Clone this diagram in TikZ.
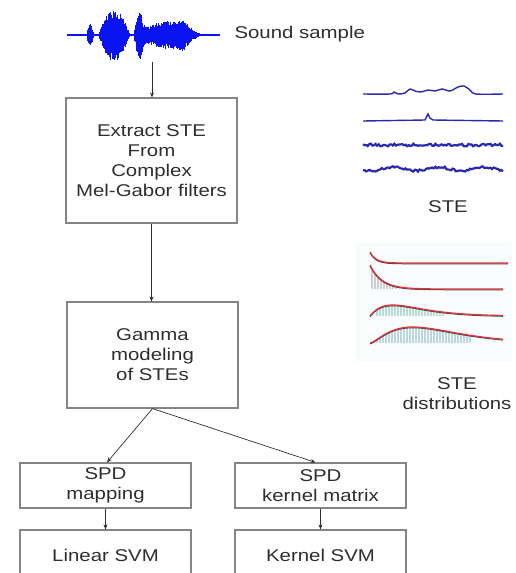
\documentclass[tikz,border=0pt]{standalone}
\usepackage{fontspec}
\setmainfont{Liberation Sans}[FakeStretch=1.2]
\usetikzlibrary{arrows.meta,calc}
\definecolor{txt}{HTML}{2E2E2E}
\definecolor{boxc}{HTML}{858585}
\definecolor{wavec}{HTML}{0A14F0}
\definecolor{stec}{HTML}{2A2AB0}
\definecolor{histg}{HTML}{CFCFCF}
\definecolor{histt}{HTML}{B4DCD0}
\definecolor{histb}{HTML}{BCD8DE}
\definecolor{fitred}{HTML}{E0303A}
\definecolor{panelbg}{HTML}{F8FCFC}
\begin{document}
\begin{tikzpicture}[x=1pt,y=-1pt,
  every node/.style={text=txt,font=\fontsize{17}{20}\selectfont},
  stagebox/.style={draw=boxc,line width=1.2pt,minimum width=171pt,align=center,inner sep=0pt},
  conn/.style={draw=txt,line width=0.7pt,-{Stealth[length=5pt,width=4pt]}},
  wavebar/.style={draw=wavec,line width=1pt},
  steline/.style={draw=stec,line width=1.4pt},
  fitdark/.style={draw=black!70,line width=1pt},
  fitcurve/.style={draw=fitred,line width=1.2pt}]
\useasboundingbox (0,0) rectangle (516,573);
\clip (0,0) rectangle (516,573);

% ---- sound waveform ----
\pgfmathsetseed{7}
\draw[wavec,line width=1.6pt] (67,35) -- (220,35);
\foreach \x in {86,86.5,...,94}{
  \pgfmathsetmacro\amp{15*(1-abs(\x-90)/4)}
  \pgfmathsetmacro\au{\amp*(0.6+0.4*rnd)}
  \pgfmathsetmacro\ad{\amp*(0.6+0.4*rnd)}
  \draw[wavebar] ({\x},{35-\au}) -- ({\x},{35+\ad});
}
\foreach \x in {98,98.5,...,130}{
  \pgfmathsetmacro\amp{27*sin(180*(\x-98)/32)}
  \pgfmathsetmacro\au{\amp*(0.6+0.4*rnd)}
  \pgfmathsetmacro\ad{\amp*(0.6+0.4*rnd)}
  \draw[wavebar] ({\x},{35-\au}) -- ({\x},{35+\ad});
}
\foreach \x in {134,134.5,...,202}{
  \pgfmathsetmacro\amp{22*exp(-((\x-139)/4)^2)+14*sin(180*(\x-134)/68)+5*exp(-((\x-183)/5)^2)}
  \pgfmathsetmacro\au{\amp*(0.6+0.4*rnd)}
  \pgfmathsetmacro\ad{\amp*(0.6+0.4*rnd)}
  \draw[wavebar] ({\x},{35-\au}) -- ({\x},{35+\ad});
}
\coordinate (wv) at (152,62);
\node[anchor=west] (sound) at (231,34) {Sound sample};

% ---- pipeline boxes ----
\node[stagebox,minimum height=125pt] (ext) at (151.5,160.5) {Extract STE\\From\\Complex\\Mel-Gabor filters};
\node[stagebox,minimum height=106pt] (gam) at (152.5,355) {Gamma\\modeling\\of STEs};
\node[stagebox,minimum height=45pt] (map) at (105.5,485.5) {SPD\\mapping};
\node[stagebox,minimum height=45pt] (ker) at (320.5,485.5) {SPD\\kernel matrix};
\node[stagebox,minimum height=50pt] (lin) at (105.5,555) {Linear SVM};
\node[stagebox,minimum height=50pt] (ksvm) at (320.5,555) {Kernel SVM};

\draw[conn] (wv) -- (wv |- ext.north);
\draw[conn] (ext.south) -- (ext.south |- gam.north);
\draw[conn] (gam.south) -- ([xshift=1.5pt]map.north);
\draw[conn] (gam.south) -- ([xshift=-5pt]ker.north);
\draw[conn] (map.south) -- (lin.north);
\draw[conn] (ker.south) -- (ksvm.north);

% ---- STE traces ----
\draw[steline] plot[smooth,tension=0.5] coordinates {(363,94) (390,94) (394,92) (398,94) (405,93) (410,89) (415,91) (421,92) (428,90) (435,91) (442,89) (450,91) (458,87) (464,86) (470,90) (476,94) (503,94)};
\draw[steline] (363,121) -- (425,120) -- (428,114) -- (430,118) -- (433,120) -- (503,121);
\draw[stec,line width=2.2pt] plot[domain=363:503,samples=90] (\x,{145+1.4*rand});
\draw[stec,line width=2.2pt] plot[domain=363:503,samples=90] (\x,{169+1.8*sin(\x*8)+1.1*rand});
\node (stelab) at (448,207) {STE};

% ---- STE distributions ----
\fill[panelbg] (356,242) rectangle (512,362);
% histograms
\foreach \x in {371,374,...,395}{
  \fill[histg] (\x,289) rectangle ({\x+2.4},{289-24*exp(-(\x+1.2-370)/12)});
}
\foreach \x in {376,379,...,444}{
  \fill[histt] (\x,316) rectangle ({\x+2.4},{316-11*((\x+1.2-370)/23)*exp(1-(\x+1.2-370)/23)});
}
\foreach \x in {376,379,...,470}{
  \fill[histb] (\x,343) rectangle ({\x+2.4},{343-16*((\x+1.2-370)/43)*sqrt((\x+1.2-370)/43)*exp(1.5*(1-(\x+1.2-370)/43))});
}
% fitted curves
\draw[fitdark,yshift=-0.8pt] plot[domain=370:508,samples=80] (\x,{263-11*exp(-(\x-370)/6)});
\draw[fitcurve] plot[domain=370:508,samples=80] (\x,{263-11*exp(-(\x-370)/6)});
\draw[fitdark,yshift=-0.8pt] plot[domain=370:503,samples=80] (\x,{289-24*exp(-(\x-370)/12)});
\draw[fitcurve] plot[domain=370:503,samples=80] (\x,{289-24*exp(-(\x-370)/12)});
\draw[fitdark,yshift=-0.8pt] plot[domain=370:503,samples=80] (\x,{316-11*((\x-370)/23)*exp(1-(\x-370)/23)});
\draw[fitcurve] plot[domain=370:503,samples=80] (\x,{316-11*((\x-370)/23)*exp(1-(\x-370)/23)});
\draw[fitdark,yshift=-0.8pt] plot[domain=370:503,samples=80] (\x,{343-16*((\x-370)/43)*sqrt((\x-370)/43)*exp(1.5*(1-(\x-370)/43))});
\draw[fitcurve] plot[domain=370:503,samples=80] (\x,{343-16*((\x-370)/43)*sqrt((\x-370)/43)*exp(1.5*(1-(\x-370)/43))});
\node[align=center] (distlab) at (457,394) {STE\\distributions};
\end{tikzpicture}
\end{document}
